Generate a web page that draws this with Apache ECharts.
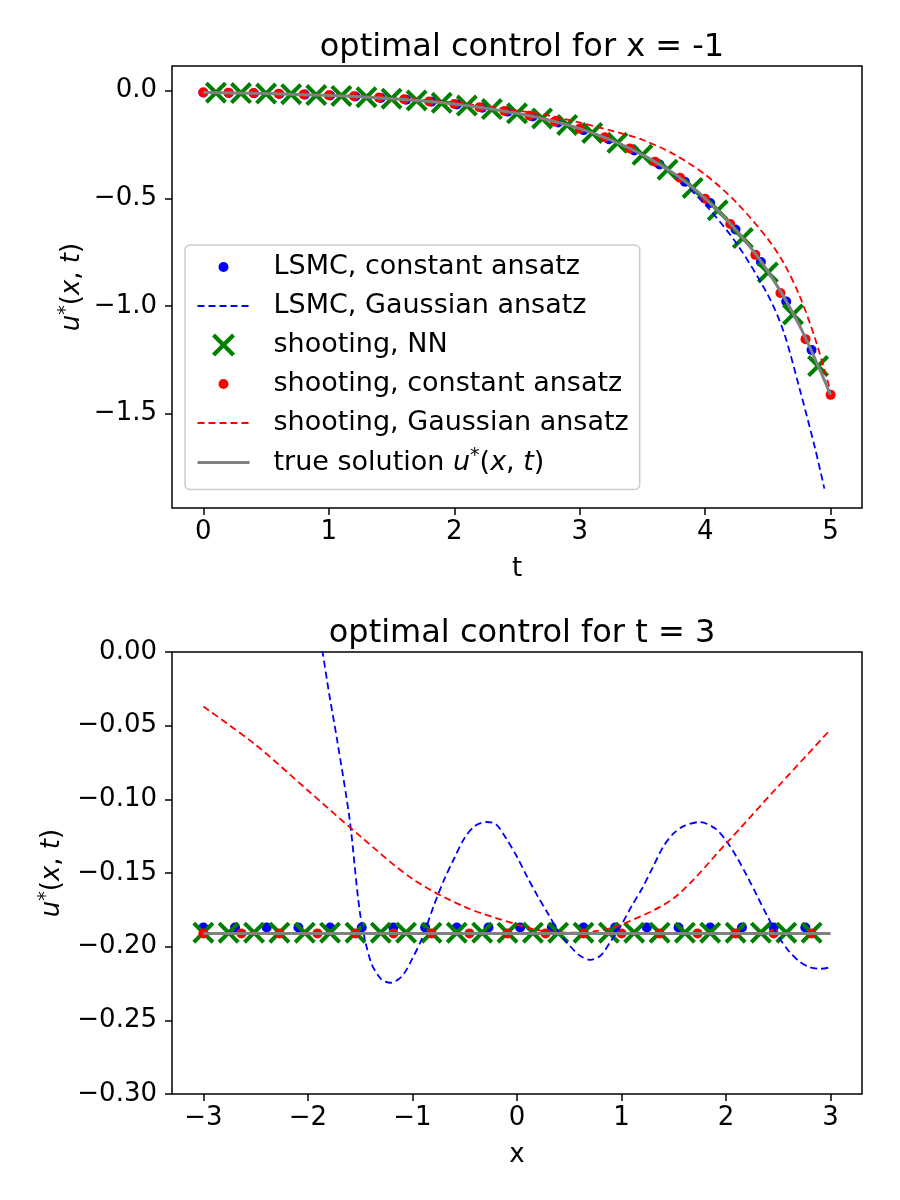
<!DOCTYPE html>
<html>
<head>
<meta charset="utf-8">
<script src="https://cdn.jsdelivr.net/npm/echarts@6/dist/echarts.min.js"></script>
<style>
html, body { margin: 0; padding: 0; background: #fff; }
#main { width: 900px; height: 1200px; }
</style>
</head>
<body>
<div id="main"></div>
<script>
// ---- top panel: x = -1, values over t ----
var tBlueDots = [0, 0.202, 0.404, 0.606, 0.808, 1.01, 1.212, 1.414, 1.616, 1.818, 2.02, 2.222, 2.424, 2.626, 2.828, 3.03, 3.232, 3.434, 3.636, 3.838, 4.04, 4.242, 4.444, 4.646, 4.848]
var uBlueDots = [-0.008, -0.010, -0.012, -0.015, -0.018, -0.022, -0.027, -0.034, -0.042, -0.051, -0.064, -0.079, -0.097, -0.120, -0.148, -0.183, -0.225, -0.278, -0.343, -0.423, -0.522, -0.645, -0.796, -0.98, -1.205]

var tBlueDash = [0, 0.5, 1.0, 1.5, 2.0, 2.5, 2.75, 3.0, 3.25, 3.5, 3.75, 4.0, 4.25, 4.5, 4.625, 4.75, 4.875, 4.95]
var uBlueDash = [-0.008, -0.013, -0.022, -0.037, -0.062, -0.104, -0.135, -0.177, -0.228, -0.296, -0.39, -0.53, -0.71, -0.95, -1.12, -1.38, -1.66, -1.85]

var tCross = [0.1, 0.3, 0.5, 0.7, 0.9, 1.1, 1.3, 1.5, 1.7, 1.9, 2.1, 2.3, 2.5, 2.7, 2.9, 3.1, 3.3, 3.5, 3.7, 3.9, 4.1, 4.3, 4.5, 4.7, 4.9]
var uCross = [-0.009, -0.011, -0.013, -0.016, -0.020, -0.024, -0.030, -0.037, -0.045, -0.056, -0.069, -0.085, -0.105, -0.129, -0.159, -0.196, -0.242, -0.298, -0.367, -0.452, -0.556, -0.685, -0.845, -1.04, -1.28]

var tRedDots = [0, 0.2, 0.4, 0.6, 0.8, 1.0, 1.2, 1.4, 1.6, 1.8, 2.0, 2.2, 2.4, 2.6, 2.8, 3.0, 3.2, 3.4, 3.6, 3.8, 4.0, 4.2, 4.4, 4.6, 4.8, 5.0]
var uRedDots = [-0.008, -0.009, -0.011, -0.014, -0.017, -0.021, -0.026, -0.032, -0.040, -0.050, -0.062, -0.077, -0.094, -0.116, -0.143, -0.176, -0.216, -0.268, -0.33, -0.405, -0.502, -0.62, -0.763, -0.94, -1.155, -1.414]

var tRedDash = [0, 0.5, 1.0, 1.5, 2.0, 2.5, 2.75, 3.0, 3.25, 3.5, 3.75, 4.0, 4.25, 4.5, 4.625, 4.75, 4.875, 5.0]
var uRedDash = [-0.008, -0.012, -0.020, -0.033, -0.055, -0.092, -0.115, -0.148, -0.185, -0.228, -0.295, -0.39, -0.52, -0.69, -0.80, -0.95, -1.15, -1.40]

var tTrue = [0, 0.25, 0.5, 0.75, 1.0, 1.25, 1.5, 1.75, 2.0, 2.25, 2.5, 2.75, 3.0, 3.25, 3.5, 3.75, 4.0, 4.25, 4.5, 4.75, 5.0]
var uTrue = [-0.008, -0.010, -0.013, -0.017, -0.022, -0.028, -0.037, -0.048, -0.062, -0.081, -0.105, -0.136, -0.176, -0.23, -0.298, -0.385, -0.5, -0.65, -0.84, -1.09, -1.414]

var topXTicks = [0, 1, 2, 3, 4, 5]
var topYTicks = [0, -0.5, -1.0, -1.5]

// ---- bottom panel: t = 3, values over x ----
var xBlueDots = [-3, -2.697, -2.394, -2.091, -1.788, -1.485, -1.182, -0.879, -0.576, -0.273, 0.030, 0.333, 0.636, 0.939, 1.242, 1.545, 1.848, 2.152, 2.455, 2.758]
var vBlueDots = [-0.187, -0.187, -0.187, -0.187, -0.187, -0.187, -0.187, -0.187, -0.187, -0.187, -0.187, -0.187, -0.187, -0.187, -0.187, -0.187, -0.187, -0.187, -0.187, -0.187]

var xBlueDash = [-3.0, -2.6, -2.3, -2.1, -2.0, -1.9, -1.86, -1.8, -1.72, -1.6, -1.5, -1.4, -1.3, -1.21, -1.1, -1.0, -0.9, -0.8, -0.7, -0.6, -0.5, -0.4, -0.29, -0.2, -0.1, 0.0, 0.1, 0.2, 0.3, 0.4, 0.5, 0.6, 0.7, 0.8, 0.9, 1.0, 1.1, 1.2, 1.3, 1.4, 1.5, 1.6, 1.75, 1.9, 2.0, 2.1, 2.2, 2.3, 2.4, 2.5, 2.6, 2.7, 2.8, 2.9, 3.0]
var vBlueDash = [1.2, 0.55, 0.25, 0.1, 0.055, 0.015, 0.0, -0.027, -0.06, -0.114, -0.178, -0.21, -0.222, -0.2245, -0.22, -0.208, -0.193, -0.173, -0.155, -0.14, -0.126, -0.118, -0.1154, -0.117, -0.127, -0.139, -0.153, -0.166, -0.178, -0.19, -0.199, -0.206, -0.209, -0.206, -0.196, -0.185, -0.172, -0.16, -0.146, -0.132, -0.123, -0.118, -0.1154, -0.12, -0.128, -0.139, -0.152, -0.166, -0.18, -0.193, -0.203, -0.21, -0.214, -0.215, -0.214]

var xCross = [-3, -2.758, -2.515, -2.273, -2.030, -1.788, -1.545, -1.303, -1.061, -0.818, -0.576, -0.333, -0.091, 0.152, 0.394, 0.636, 0.879, 1.121, 1.364, 1.606, 1.848, 2.091, 2.333, 2.576, 2.818]
var vCross = [-0.1905, -0.1905, -0.1905, -0.1905, -0.1905, -0.1905, -0.1905, -0.1905, -0.1905, -0.1905, -0.1905, -0.1905, -0.1905, -0.1905, -0.1905, -0.1905, -0.1905, -0.1905, -0.1905, -0.1905, -0.1905, -0.1905, -0.1905, -0.1905, -0.1905]

var xRedDots = [-3, -2.636, -2.273, -1.909, -1.545, -1.182, -0.818, -0.455, -0.091, 0.273, 0.636, 1.0, 1.364, 1.727, 2.091, 2.455, 2.818]
var vRedDots = [-0.191, -0.191, -0.191, -0.191, -0.191, -0.191, -0.191, -0.191, -0.191, -0.191, -0.191, -0.191, -0.191, -0.191, -0.191, -0.191, -0.191]

var xRedDash = [-3.0, -2.5, -2.0, -1.5, -1.0, -0.5, 0.0, 0.25, 0.5, 0.75, 1.0, 1.5, 2.0, 2.5, 3.0]
var vRedDash = [-0.037, -0.063, -0.094, -0.125, -0.154, -0.173, -0.185, -0.1895, -0.1905, -0.1895, -0.185, -0.167, -0.13, -0.091, -0.0525]

var xTrue = [-3, 3]
var vTrue = [-0.191, -0.191]

var botXTicks = [-3, -2, -1, 0, 1, 2, 3]

var FONT = 'DejaVu Sans'
var DOT = 'path://M0,0M23,23M6.5,11.5a5,5 0 1,0 10,0a5,5 0 1,0 -10,0z'
var CROSS = 'path://M0,1.3L1.3,0L5,3.7L8.7,0L10,1.3L6.3,5L10,8.7L8.7,10L5,6.3L1.3,10L0,8.7L3.7,5Z'
var TRUE_NAME = 'true solution u*(x, t)'

function pairs (xs, ys) {
  return xs.map(function (x, i) { return [x, ys[i]] })
}
function minus (s) { return s.replace('-', '\u2212') }

function richMath (size) {
  return {
    i: {fontFamily: FONT, fontStyle: 'italic', fontSize: size, color: '#000', lineHeight: 30},
    n: {fontFamily: FONT, fontSize: size, color: '#000', lineHeight: 30},
    s: {fontFamily: FONT, fontSize: 19, color: '#000', padding: [0, 0, 12, 0]}
  }
}

function axisText (size) {
  return {fontFamily: FONT, fontSize: size, color: '#000'}
}

function makeSeries (g, data) {
  return [
    {name: 'LSMC, constant ansatz', type: 'scatter', xAxisIndex: g, yAxisIndex: g, symbol: 'circle', symbolSize: 10, itemStyle: {color: '#0000ff', opacity: 1}, data: data[0]},
    {name: 'LSMC, Gaussian ansatz', type: 'line', xAxisIndex: g, yAxisIndex: g, symbol: 'none', smooth: 0.3, lineStyle: {color: '#0000ff', width: 1.8, type: [7, 4]}, itemStyle: {color: '#0000ff'}, data: data[1]},
    {name: 'shooting, NN', type: 'scatter', xAxisIndex: g, yAxisIndex: g, symbol: CROSS, symbolSize: 22, itemStyle: {color: '#008000', opacity: 1}, data: data[2]},
    {name: 'shooting, constant ansatz', type: 'scatter', xAxisIndex: g, yAxisIndex: g, symbol: 'circle', symbolSize: 10, itemStyle: {color: '#ff0000', opacity: 1}, data: data[3]},
    {name: 'shooting, Gaussian ansatz', type: 'line', xAxisIndex: g, yAxisIndex: g, symbol: 'none', smooth: 0.3, lineStyle: {color: '#ff0000', width: 1.8, type: [7, 4]}, itemStyle: {color: '#ff0000'}, data: data[4]},
    {name: TRUE_NAME, type: 'line', xAxisIndex: g, yAxisIndex: g, symbol: 'none', smooth: 0.3, lineStyle: {color: '#808080', width: 3}, itemStyle: {color: '#808080'}, data: data[5]}
  ]
}

var topSeries = makeSeries(0, [
  pairs(tBlueDots, uBlueDots), pairs(tBlueDash, uBlueDash), pairs(tCross, uCross),
  pairs(tRedDots, uRedDots), pairs(tRedDash, uRedDash), pairs(tTrue, uTrue)
])
var botSeries = makeSeries(1, [
  pairs(xBlueDots, vBlueDots), pairs(xBlueDash, vBlueDash), pairs(xCross, vCross),
  pairs(xRedDots, vRedDots), pairs(xRedDash, vRedDash), pairs(xTrue, vTrue)
])

var tick = {show: true, inside: false, length: 7, lineStyle: {color: '#000', width: 1.5}}
var noLine = {show: false, onZero: false}

var option = {
  animation: false,
  backgroundColor: '#fff',
  title: [
    {text: 'optimal control for x = -1', left: 517, top: 27, textAlign: 'center', textVerticalAlign: 'top', textStyle: {fontFamily: FONT, fontSize: 32, fontWeight: 'normal', color: '#000'}},
    {text: 'optimal control for t = 3', left: 517, top: 613, textAlign: 'center', textVerticalAlign: 'top', textStyle: {fontFamily: FONT, fontSize: 32, fontWeight: 'normal', color: '#000'}}
  ],
  grid: [
    {left: 172, top: 66, width: 690, height: 442, show: true, borderColor: '#000', borderWidth: 1.5, backgroundColor: 'transparent', outerBoundsMode: 'none'},
    {left: 172, top: 652, width: 690, height: 442, show: true, borderColor: '#000', borderWidth: 1.5, backgroundColor: 'transparent', outerBoundsMode: 'none'}
  ],
  legend: {
    left: 185,
    top: 245,
    orient: 'vertical',
    itemWidth: 52,
    itemHeight: 23,
    itemGap: 9,
    padding: [7, 11, 12, 11],
    backgroundColor: 'rgba(255,255,255,0.8)',
    borderColor: '#cccccc',
    borderWidth: 1.5,
    borderRadius: 5,
    selectedMode: false,
    textStyle: {fontFamily: FONT, fontSize: 27, color: '#000', lineHeight: 30, padding: [0, 0, 0, 19], rich: richMath(27)},
    formatter: function (name) {
      return name === TRUE_NAME ? '{n|true solution }{i|u}{s|*}{n|(}{i|x}{n|, }{i|t}{n|)}' : name
    },
    data: [
      {name: 'LSMC, constant ansatz', icon: DOT},
      {name: 'LSMC, Gaussian ansatz', itemStyle: {opacity: 0}},
      {name: 'shooting, NN', icon: CROSS},
      {name: 'shooting, constant ansatz', icon: DOT},
      {name: 'shooting, Gaussian ansatz', itemStyle: {opacity: 0}},
      {name: TRUE_NAME, itemStyle: {opacity: 0}, lineStyle: {width: 3}}
    ]
  },
  xAxis: [
    {
      gridIndex: 0, type: 'value', min: -0.25, max: 5.25,
      name: 't', nameLocation: 'middle', nameGap: 48, nameTextStyle: axisText(26),
      axisLine: noLine, splitLine: {show: false},
      axisTick: Object.assign({customValues: topXTicks}, tick),
      axisLabel: Object.assign({customValues: topXTicks, margin: 11, formatter: function (v) { return minus(String(v)) }}, axisText(26))
    },
    {
      gridIndex: 1, type: 'value', min: -3.3, max: 3.3,
      name: 'x', nameLocation: 'middle', nameGap: 48, nameTextStyle: axisText(26),
      axisLine: noLine, splitLine: {show: false},
      axisTick: Object.assign({customValues: botXTicks}, tick),
      axisLabel: Object.assign({customValues: botXTicks, margin: 11, formatter: function (v) { return minus(String(v)) }}, axisText(26))
    }
  ],
  yAxis: [
    {
      gridIndex: 0, type: 'value', min: -1.94, max: 0.115,
      name: '{i|u}{s|*}{n|(}{i|x}{n|, }{i|t}{n|)}', nameLocation: 'middle', nameRotate: 90, nameGap: 84, nameMoveOverlap: false,
      nameTextStyle: {fontFamily: FONT, fontSize: 26, color: '#000', rich: richMath(26)},
      axisLine: noLine, splitLine: {show: false},
      axisTick: Object.assign({customValues: topYTicks}, tick),
      axisLabel: Object.assign({customValues: topYTicks, margin: 15, formatter: function (v) { return minus(v.toFixed(1)) }}, axisText(26))
    },
    {
      gridIndex: 1, type: 'value', min: -0.3, max: 0, interval: 0.05,
      name: '{i|u}{s|*}{n|(}{i|x}{n|, }{i|t}{n|)}', nameLocation: 'middle', nameRotate: 90, nameGap: 104, nameMoveOverlap: false,
      nameTextStyle: {fontFamily: FONT, fontSize: 26, color: '#000', rich: richMath(26)},
      axisLine: noLine, splitLine: {show: false},
      axisTick: tick,
      axisLabel: Object.assign({margin: 15, formatter: function (v) { return minus(v.toFixed(2)) }}, axisText(26))
    }
  ],
  series: topSeries.concat(botSeries)
}

var chart = echarts.init(document.getElementById('main'), null, {renderer: 'canvas'})
chart.setOption(option)
</script>
</body>
</html>
